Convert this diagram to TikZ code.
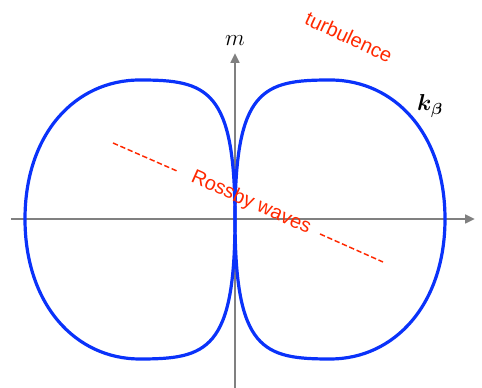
\documentclass[tikz,border=0pt]{standalone}
\usepackage{fontspec}
\setmainfont{Liberation Sans}
\usepackage{bm}
\usetikzlibrary{arrows.meta}
\definecolor{axisgray}{RGB}{128,128,128}
\definecolor{curveblue}{RGB}{10,50,250}
\definecolor{labelred}{RGB}{255,40,0}

\begin{document}
\begin{tikzpicture}[
    x=0.75pt, y=0.75pt,
    axis/.style={-{Triangle[length=7.5pt,width=6.5pt]}, line width=2.2pt, axisgray},
    lobe/.style={line width=2.4pt, curveblue},
    guide/.style={dashed, dash pattern=on 4pt off 2pt, line width=1.1pt, labelred},
    redtext/.style={labelred, font=\fontsize{15}{18}\selectfont},
    mathtext/.style={font=\fontsize{17.5}{21}\selectfont},
]
\useasboundingbox (-235,-169) rectangle (247,219);

% Axes
\coordinate (xstart) at (-224,0);
\coordinate (xend) at (240,0);
\coordinate (ystart) at (0,-169);
\coordinate (yend) at (0,166);
\draw[axis] (xstart) -- (xend);
\draw[axis] (ystart) -- (yend);
\node[mathtext] (mlabel) at (0,178) {$m$};

% k_beta curve, one lobe on each side
\foreach \s in {1,-1}{
  \draw[lobe, xscale=\s] (0,0) .. controls (0,130) and (28,139) .. (95,139)
      .. controls (160,139) and (210,85) .. (210,0)
      .. controls (210,-85) and (160,-140) .. (95,-140)
      .. controls (28,-140) and (0,-131) .. (0,0);
}
\node[mathtext] (kbeta) at (195,113) {$\bm{k}_{\bm{\beta}}$};

% Labels
\node[redtext, rotate=-25] (turb) at (114,182) {turbulence};
\node[redtext, rotate=-24] (rossby) at (16,16) {Rossby waves};
\coordinate (r1) at (-122,76);
\coordinate (r2) at (-58,48);
\coordinate (r3) at (85,-15);
\coordinate (r4) at (148,-43);
\draw[guide] (r1) -- (r2);
\draw[guide] (r3) -- (r4);
\end{tikzpicture}
\end{document}
